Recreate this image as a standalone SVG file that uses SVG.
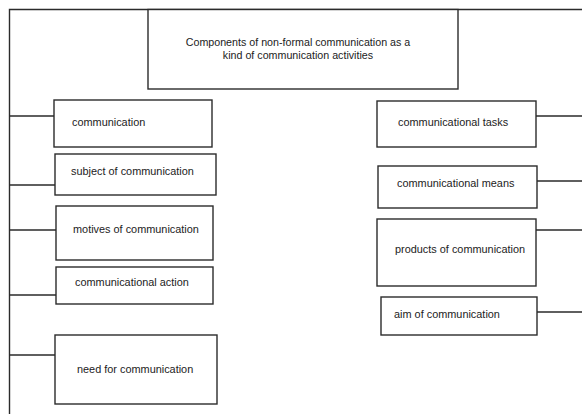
<svg xmlns="http://www.w3.org/2000/svg" width="582" height="414" viewBox="0 0 582 414">
<style>
.box{fill:#fff;stroke:#2b2b2b;stroke-width:1.4}
.ln{fill:none;stroke:#2b2b2b;stroke-width:1.4}
text{font-family:"Liberation Sans",Arial,sans-serif;font-size:10.9px;fill:#222;dominant-baseline:central}
</style>
<rect width="582" height="414" fill="#fff"/>
<g id="connectors">
<path class="ln" d="M9.5 414 V9.5 H582"/>
<path class="ln" d="M9.5 116 H54 M9.5 185 H55 M9.5 230 H56 M9.5 295 H56 M9.5 355 H55"/>
<path class="ln" d="M536 116 H582 M537 181 H582 M536 230 H582 M537 312 H582"/>
</g>
<g id="root">
<rect class="box" x="148" y="9.5" width="310" height="79.5"/>
<text x="298" y="42" text-anchor="middle" style="font-size:10.7px">Components of non-formal communication as a</text>
<text x="298" y="55" text-anchor="middle" style="font-size:10.7px">kind of communication activities</text>
</g>
<g id="n-communication"><rect class="box" x="54" y="100" width="158" height="47"/><text x="72" y="122">communication</text></g>
<g id="n-subject"><rect class="box" x="55" y="154" width="161" height="41"/><text x="71" y="171">subject of communication</text></g>
<g id="n-motives"><rect class="box" x="56" y="206" width="157" height="54"/><text x="73" y="229">motives of communication</text></g>
<g id="n-action"><rect class="box" x="56" y="267" width="157" height="37"/><text x="75" y="282">communicational action</text></g>
<g id="n-need"><rect class="box" x="55" y="335" width="162" height="69"/><text x="77" y="369">need for communication</text></g>
<g id="n-tasks"><rect class="box" x="377" y="101" width="159" height="46"/><text x="398" y="122">communicational tasks</text></g>
<g id="n-means"><rect class="box" x="378" y="166" width="159" height="42"/><text x="397" y="183">communicational means</text></g>
<g id="n-products"><rect class="box" x="377" y="219" width="159" height="67"/><text x="395" y="249">products of communication</text></g>
<g id="n-aim"><rect class="box" x="381" y="297" width="156" height="38"/><text x="394" y="314">aim of communication</text></g>
</svg>
